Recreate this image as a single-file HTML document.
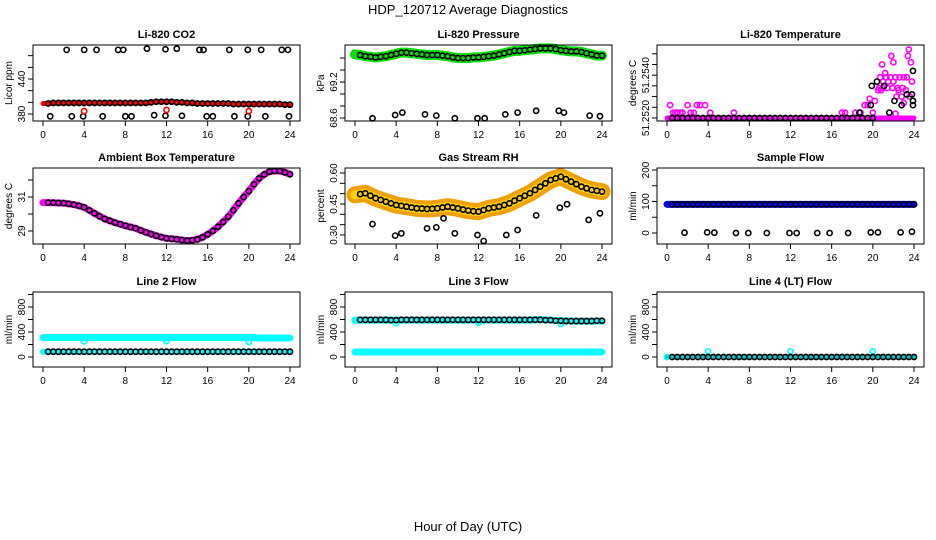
<!DOCTYPE html>
<html><head><meta charset="utf-8"><title>HDP_120712 Average Diagnostics</title>
<style>
html,body{margin:0;padding:0;background:#fff;}
svg{display:block;font-family:"Liberation Sans",sans-serif;}
</style></head>
<body>
<svg id="chart" width="936" height="540" viewBox="0 0 936 540" xmlns="http://www.w3.org/2000/svg">
<text x="468" y="14" text-anchor="middle" font-size="13">HDP_120712  Average Diagnostics</text>
<text x="468" y="531" text-anchor="middle" font-size="13">Hour of Day (UTC)</text>
</svg>
<script>
const hours=[0,0.5,1,1.5,2,2.5,3,3.5,4,4.5,5,5.5,6,6.5,7,7.5,8,8.5,9,9.5,10,10.5,11,11.5,12,12.5,13,13.5,14,14.5,15,15.5,16,16.5,17,17.5,18,18.5,19,19.5,20,20.5,21,21.5,22,22.5,23,23.5,24];
const xTicks=[0,4,8,12,16,20,24];

const co2Band=[398,398,399,399,399,399,399,399,399,399,399,399,399,399,399,399,399,399,399,399,399,400,401,401,401,401,400,400,399,399,398,398,398,398,398,398,398,397,397,397,397,397,397,397,397,397,397,396,396];
const co2HighT=[2.3,4,5.2,7.3,7.8,10.1,11.9,13,15.2,15.6,18.1,19.9,21.2,23.2,23.8];
const co2HighV=[490,490,490,490,490,492,491,492,490,490,490,490,490,490,490];
const co2LowT=[0.7,2.8,3.9,5.8,8,8.6,10.8,11.9,13.5,15.9,16.5,18.6,19.9,21.6,23.9];
const co2LowV=[376,376,376,376,376,376,378,377,377,376,376,376,376,376,376];
const co2RedOutT=[4,12,20];
const co2RedOutV=[385,387,385];

const pressBand=[69.66,69.65,69.63,69.62,69.61,69.62,69.63,69.65,69.67,69.69,69.69,69.68,69.67,69.66,69.65,69.65,69.65,69.64,69.63,69.61,69.60,69.60,69.60,69.61,69.61,69.62,69.63,69.64,69.66,69.68,69.70,69.72,69.72,69.73,69.74,69.75,69.76,69.76,69.76,69.75,69.73,69.72,69.71,69.71,69.70,69.68,69.66,69.64,69.64];
const pressLowT=[1.7,3.9,4.6,6.8,7.9,9.7,11.9,12.6,14.6,15.8,17.6,19.8,20.3,22.8,23.8];
const pressLowV=[68.595,68.65,68.69,68.66,68.64,68.595,68.595,68.595,68.66,68.69,68.72,68.72,68.69,68.64,68.63];

const tempBand=[51.2520,51.2520,51.2520,51.2520,51.2520,51.2520,51.2520,51.2520,51.2520,51.2520,51.2520,51.2520,51.2520,51.2520,51.2520,51.2520,51.2520,51.2520,51.2520,51.2520,51.2520,51.2520,51.2520,51.2520,51.2520,51.2520,51.2520,51.2520,51.2520,51.2520,51.2520,51.2520,51.2520,51.2520,51.2520,51.2520,51.2520,51.2520,51.2520,51.2520,51.2520,51.2520,51.2520,51.2520,51.2520,51.2520,51.2520,51.2520,51.2520];
const tempMagT=[0.3,0.6,0.8,1.0,1.3,1.5,2.0,2.3,2.6,2.9,3.2,3.7,4.2,6.5,17.0,17.3,18.3,18.8,19.2,19.5,19.7,20.0,20.2,20.5,20.8,20.9,21.2,21.0,21.5,22.0,21.8,22.0,22.3,22.5,22.8,23.0,23.2,23.4,23.5,23.7,23.8,23.6,22.2,20.7,21.3,21.7,22.2,22.6,23.0,23.3,20.6,21.0,21.4,21.9,22.4,22.9];
const tempMagV=[51.2526,51.25225,51.25225,51.25225,51.25225,51.25225,51.2526,51.25225,51.25225,51.2526,51.2526,51.2526,51.25225,51.25225,51.25225,51.25225,51.25225,51.25225,51.2526,51.2526,51.2529,51.25225,51.2528,51.2533,51.2533,51.2545,51.2541,51.2537,51.2537,51.2537,51.2549,51.2546,51.2530,51.2533,51.2530,51.2527,51.2533,51.2549,51.2552,51.2546,51.2537,51.2530,51.2522,51.2539,51.2539,51.2539,51.2539,51.2539,51.2539,51.2539,51.2534,51.2534,51.2534,51.2534,51.2534,51.2534];
const tempBlkT=[18.7,19.8,19.9,20.4,21.1,22.1,21.6,22.8,23.3,23.8,23.9,23.9,23.9];
const tempBlkV=[51.25225,51.2526,51.2535,51.2537,51.2535,51.2528,51.25225,51.2526,51.2531,51.2531,51.2528,51.2526,51.2542];

const ambBand=[30.67,30.67,30.66,30.65,30.64,30.6,30.55,30.48,30.39,30.22,30.04,29.87,29.71,29.6,29.49,29.4,29.31,29.23,29.16,29.04,28.92,28.82,28.72,28.64,28.57,28.54,28.51,28.47,28.43,28.46,28.51,28.63,28.8,29.0,29.25,29.53,29.84,30.22,30.63,31.0,31.35,31.75,32.1,32.33,32.49,32.53,32.53,32.45,32.34];

const rhBand=[0.494,0.498,0.502,0.490,0.478,0.470,0.461,0.453,0.445,0.441,0.437,0.433,0.429,0.428,0.426,0.427,0.429,0.433,0.437,0.433,0.429,0.423,0.418,0.415,0.413,0.421,0.429,0.433,0.437,0.445,0.453,0.466,0.478,0.490,0.502,0.518,0.534,0.550,0.566,0.574,0.582,0.570,0.558,0.546,0.534,0.526,0.518,0.514,0.510];
const rhLowT=[1.7,3.9,4.5,7.0,7.9,8.6,9.7,11.9,12.5,14.7,15.8,17.6,19.9,20.6,22.7,23.8];
const rhLowV=[0.353,0.297,0.308,0.332,0.337,0.381,0.308,0.300,0.271,0.300,0.324,0.395,0.432,0.449,0.373,0.405];

const sampBand=[91,91,91,91,91,91,91,91,91,91,91,91,91,91,91,91,91,91,91,91,91,91,91,91,91,91,91,91,91,91,91,91,91,91,91,91,91,91,91,91,91,91,91,91,91,91,91,91,91];
const sampLowT=[1.7,3.9,4.6,6.7,7.9,9.7,11.9,12.6,14.6,15.8,17.6,19.8,20.5,22.7,23.8];
const sampLowV=[1,2,1,0,0,0,0,0,0,0,0,2,2,2,4];

const l2Cyan=[310,310,310,310,310,310,310,310,310,310,310,310,310,310,310,310,310,310,310,310,310,310,310,310,310,310,310,310,310,310,310,310,310,310,310,310,310,310,310,310,310,310,305,305,305,305,305,305,305];
const l2Black=[85,85,85,85,85,85,85,85,85,85,85,85,85,85,85,85,85,85,85,85,85,85,85,85,85,85,85,85,85,85,85,85,85,85,85,85,85,85,85,85,85,85,85,85,85,85,85,85,85];
const l2DipT=[4,12,20];
const l2DipV=[250,255,240];

const l3Cyan=[590,590,590,590,590,590,590,590,590,590,590,590,590,590,590,590,590,590,590,590,590,590,590,590,590,590,590,590,590,590,590,590,590,590,590,595,600,595,590,585,580,580,575,575,575,575,575,575,575];
const l3Black=[595,595,595,595,595,595,595,590,590,595,595,595,595,595,595,595,595,595,595,595,595,595,595,595,595,595,595,595,595,595,595,595,595,595,595,595,595,590,590,580,580,575,575,575,575,575,575,580,580];
const l3Low=[80,80,80,80,80,80,80,80,80,80,80,80,80,80,80,80,80,80,80,80,80,80,80,80,80,80,80,80,80,80,80,80,80,80,80,80,80,80,80,80,80,80,80,80,80,80,80,80,80];
const l3DipT=[4,12,20];
const l3DipV=[540,550,530];

const l4Black=[0,0,0,0,0,0,0,0,0,0,0,0,0,0,0,0,0,0,0,0,0,0,0,0,0,0,0,0,0,0,0,0,0,0,0,0,0,0,0,0,0,0,0,0,0,0,0,0,0];
const l4SpikeT=[0,4,12,20];
const l4SpikeV=[0,90,90,90];

const NS='http://www.w3.org/2000/svg';
const svg=document.getElementById('chart');
function mk(tag,attrs,parent){const e=document.createElementNS(NS,tag);for(const k in attrs)e.setAttribute(k,attrs[k]);(parent||svg).appendChild(e);return e;}

const colX=[43,355,667];
const rowTop=[45,168,292];
const rowBot=[121,244,367];
const PPH=247/24;

function makePanel(col,row,title,ylab,ymin,ymax,ticks,labels,key){
  const g=mk('g',{});
  
  
  const x0=colX[col],top=rowTop[row],bot=rowBot[row];
  const left=x0-10,right=x0+247+10;
  const P={g,left,right,top,bot,
    x:t=>x0+t*PPH,
    y:v=>bot-(v-ymin)/(ymax-ymin)*(bot-top)};
  const t=mk('text',{x:(left+right)/2,y:top-7,'text-anchor':'middle','font-size':11,'font-weight':'bold'},g);
  t.textContent=title;
  
  
  const yl=mk('text',{x:0,y:0,'text-anchor':'middle','font-size':10,transform:`translate(${left-21},${(top+bot)/2}) rotate(-90)`},g);
  yl.textContent=ylab;
  
  
  // x axis
  const xa=mk('line',{x1:P.x(0),x2:P.x(24),y1:bot,y2:bot,stroke:'#000'},g);
  
  
  xTicks.forEach(v=>{
    const tk=mk('line',{x1:P.x(v),x2:P.x(v),y1:bot,y2:bot+5,stroke:'#000'},g);
    
    
    const tl=mk('text',{x:P.x(v),y:bot+17,'text-anchor':'middle','font-size':10},g);
    tl.textContent=String(v);
    
    
  });
  const ya=mk('line',{x1:left,x2:left,y1:P.y(ticks[0]),y2:P.y(ticks[ticks.length-1]),stroke:'#000'},g);
  
  
  ticks.forEach(v=>{
    const tk=mk('line',{x1:left-5,x2:left,y1:P.y(v),y2:P.y(v),stroke:'#000'},g);
    
    
  });
  labels.forEach(l=>{
    const tl=mk('text',{x:0,y:0,'text-anchor':'middle','font-size':10,transform:`translate(${left-8},${P.y(l[0])}) rotate(-90)`},g);
    tl.textContent=l[1];
    
    
  });
  P.marks=mk('g',{'clip-path':''},g);
  return P;
}
function finishBox(P,key){
  const b=mk('rect',{x:P.left,y:P.top,width:P.right-P.left,height:P.bot-P.top,fill:'none',stroke:'#000','stroke-width':1},P.g);
  
  
}
function band(P,ts,vs,color,w,key){
  const pts=ts.map((t,i)=>P.x(t)+','+P.y(vs[i])).join(' ');
  const pl=mk('polyline',{points:pts,fill:'none',stroke:color,'stroke-width':w,'stroke-linecap':'round','stroke-linejoin':'round'},P.g);
  
  
}
function pts(P,ts,vs,color,key,r,sw){
  ts.forEach((t,i)=>{
    const c=mk('circle',{cx:P.x(t),cy:P.y(vs[i]),r:r||2.6,fill:'none',stroke:color,'stroke-width':sw||1.6},P.g);
    
    
  });
}
function skipFirst(a){return a.slice(1);}

// CO2
let P=makePanel(0,0,'Li-820 CO2','Licor ppm',368,498.3,[380,400,420,440,460,480],[[380,'380'],[440,'440']],'co2');
band(P,hours,co2Band,'#ff0000',5,'co2-red-series');
pts(P,skipFirst(hours),skipFirst(co2Band),'#000','co2-point');
pts(P,co2HighT,co2HighV,'#000','co2-high-point');
pts(P,co2LowT,co2LowV,'#000','co2-low-point');
pts(P,co2RedOutT,co2RedOutV,'#ff0000','co2-red-outlier');
finishBox(P,'co2');

// Pressure
P=makePanel(1,0,'Li-820 Pressure','kPa',68.55,69.817,[68.6,68.8,69.0,69.2,69.4,69.6],[[68.6,'68.6'],[69.2,'69.2']],'pressure');
band(P,hours,pressBand,'#00e000',10,'pressure-green-series');
pts(P,skipFirst(hours),skipFirst(pressBand),'#000','pressure-point');
pts(P,pressLowT,pressLowV,'#000','pressure-low-point');
finishBox(P,'pressure');

// Temperature
P=makePanel(2,0,'Li-820 Temperature','degrees C',51.25186,51.25541,[51.2520,51.2525,51.2530,51.2535,51.2540,51.2545,51.2550],[[51.2520,'51.2520'],[51.2540,'51.2540']],'li820-temp');
band(P,hours,tempBand,'#ff00ff',5,'li820-temp-magenta-baseline');
pts(P,tempMagT,tempMagV,'#ff00ff','li820-temp-magenta-point');
pts(P,hours.slice(1,41),tempBand.slice(1,41),'#000','li820-temp-point');
pts(P,tempBlkT,tempBlkV,'#000','li820-temp-black-point');
finishBox(P,'li820-temp');

// Ambient
P=makePanel(0,1,'Ambient Box Temperature','degrees C',28.235,32.706,[29,30,31,32],[[29,'29'],[31,'31']],'ambient');
band(P,hours,ambBand,'#ff00ff',7,'ambient-magenta-series');
pts(P,skipFirst(hours),skipFirst(ambBand),'#000','ambient-point');
finishBox(P,'ambient');

// RH
P=makePanel(1,1,'Gas Stream RH','percent',0.2564,0.6242,[0.30,0.35,0.40,0.45,0.50,0.55,0.60],[[0.30,'0.30'],[0.45,'0.45'],[0.60,'0.60']],'rh');
band(P,hours,rhBand,'#f0a000',17,'rh-orange-series');
band(P,hours,rhBand,'#ffd000',9,'rh-yellow-core');
pts(P,skipFirst(hours),skipFirst(rhBand),'#000','rh-point');
pts(P,rhLowT,rhLowV,'#000','rh-low-point');
finishBox(P,'rh');

// Sample flow
P=makePanel(2,1,'Sample Flow','ml/min',-34.9,206.3,[0,50,100,150,200],[[0,'0'],[100,'100'],[200,'200']],'sample');
band(P,hours,sampBand,'#0000ff',7,'sample-blue-series');
pts(P,skipFirst(hours),skipFirst(sampBand),'#000','sample-point');
pts(P,sampLowT,sampLowV,'#000','sample-low-point');
finishBox(P,'sample');

const flowTicks=[0,200,400,600,800,1000];
const flowLabels=[[0,'0'],[400,'400'],[800,'800']];
// Line 2
P=makePanel(0,2,'Line 2 Flow','ml/min',-160,1040,flowTicks,flowLabels,'line2');
band(P,hours,l2Cyan,'#00ffff',7,'line2-cyan-series');
band(P,hours,l2Black,'#00ffff',6,'line2-cyan-low-series');
pts(P,l2DipT,l2DipV,'#00ffff','line2-cyan-dip');
pts(P,skipFirst(hours),skipFirst(l2Black),'#000','line2-point');
finishBox(P,'line2');

// Line 3
P=makePanel(1,2,'Line 3 Flow','ml/min',-160,1040,flowTicks,flowLabels,'line3');
band(P,hours,l3Cyan,'#00ffff',7,'line3-cyan-series');
band(P,hours,l3Low,'#00ffff',7,'line3-cyan-low-series');
pts(P,l3DipT,l3DipV,'#00ffff','line3-cyan-dip');
pts(P,skipFirst(hours),skipFirst(l3Black),'#000','line3-point');
finishBox(P,'line3');

// Line 4
P=makePanel(2,2,'Line 4 (LT) Flow','ml/min',-160,1040,flowTicks,flowLabels,'line4');
band(P,hours,l4Black,'#00cccc',4,'line4-cyan-series');
pts(P,l4SpikeT,l4SpikeV,'#00ffff','line4-cyan-spike');
pts(P,skipFirst(hours),skipFirst(l4Black),'#000','line4-point');
finishBox(P,'line4');
</script>
</body></html>
